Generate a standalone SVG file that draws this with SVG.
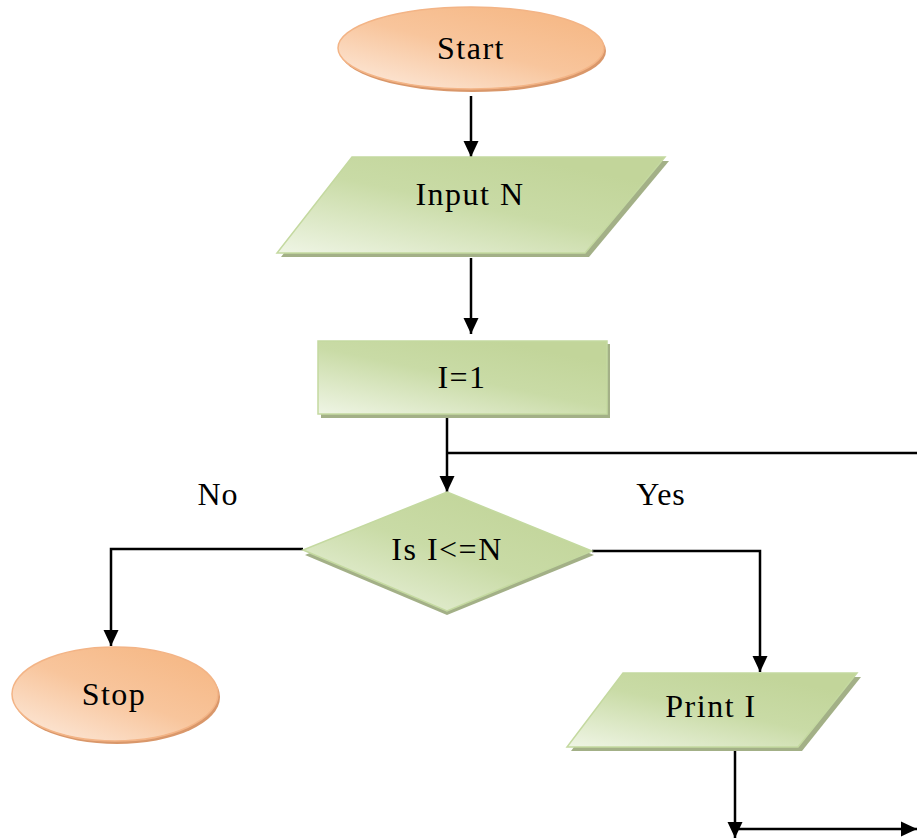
<svg xmlns="http://www.w3.org/2000/svg" width="917" height="839" viewBox="0 0 917 839">
  <style>
    .lbl { font-family: "Liberation Serif", "Times New Roman", serif; font-size: 32px; letter-spacing: 1.5px; fill: #000; text-anchor: middle; dominant-baseline: central; }
    .term { fill: url(#gOrange); stroke: #F3B486; stroke-width: 1.5; }
    .termShadow { fill: #D9976A; }
    .proc { fill: url(#gGreen); stroke: #C4D9A0; stroke-width: 1.5; }
    .procShadow { fill: #A3B087; }
    .wire { fill: none; stroke: #000; stroke-width: 2.5; }
  </style>
  <defs>
    <linearGradient id="gOrange" x1="0" y1="1" x2="0.75" y2="0.1">
      <stop offset="0" stop-color="#FDEDE1"/>
      <stop offset="0.6" stop-color="#F8C59C"/>
      <stop offset="1" stop-color="#F6BA89"/>
    </linearGradient>
    <linearGradient id="gGreen" x1="0" y1="1" x2="0.75" y2="0.1">
      <stop offset="0" stop-color="#EFF5E5"/>
      <stop offset="0.6" stop-color="#C9DBA6"/>
      <stop offset="1" stop-color="#C2D59A"/>
    </linearGradient>
    <marker id="arrow" viewBox="0 0 16 16" refX="16" refY="8" markerWidth="16" markerHeight="16" markerUnits="userSpaceOnUse" orient="auto">
      <path d="M0,0.5 L16,8 L0,15.5 z" fill="#000"/>
    </marker>
  </defs>

  <!-- connectors -->
  <g id="connectors">
    <line class="wire" x1="471" y1="96" x2="471" y2="157" marker-end="url(#arrow)"/>
    <line class="wire" x1="471" y1="258" x2="471" y2="334" marker-end="url(#arrow)"/>
    <line class="wire" x1="447" y1="415" x2="447" y2="492" marker-end="url(#arrow)"/>
    <line class="wire" x1="447" y1="453" x2="917" y2="453"/>
    <polyline class="wire" points="303,549 111,549 111,646" marker-end="url(#arrow)"/>
    <polyline class="wire" points="592,551 760,551 760,672" marker-end="url(#arrow)"/>
    <line class="wire" x1="735" y1="750" x2="735" y2="838" marker-end="url(#arrow)"/>
    <line class="wire" x1="735" y1="829" x2="917" y2="829" marker-end="url(#arrow)"/>
  </g>

  <!-- branch labels -->
  <text class="lbl" x="218" y="494" style="letter-spacing:1px">No</text>
  <text class="lbl" x="661" y="494" style="letter-spacing:1px">Yes</text>

  <g id="start">
    <ellipse class="termShadow" cx="473" cy="51" rx="133" ry="41"/>
    <ellipse class="term" cx="471" cy="48" rx="133" ry="41"/>
    <text class="lbl" x="471" y="48">Start</text>
  </g>

  <g id="inputN">
    <polygon class="procShadow" points="356,161 669,161 589,257 281,257"/>
    <polygon class="proc" points="352,157 665,157 585,253 277,253"/>
    <text class="lbl" x="470" y="194">Input N</text>
  </g>

  <g id="init">
    <rect class="procShadow" x="321" y="344" width="289" height="74"/>
    <rect class="proc" x="318" y="341" width="289" height="73"/>
    <text class="lbl" x="462" y="377">I=1</text>
  </g>

  <g id="decision">
    <polygon class="procShadow" points="447,496 594,555 447,615 305,555"/>
    <polygon class="proc" points="447,492 592,551 447,611 303,550"/>
    <text class="lbl" x="447" y="549">Is I&lt;=N</text>
  </g>

  <g id="stop">
    <ellipse class="termShadow" cx="117" cy="697" rx="103" ry="47"/>
    <ellipse class="term" cx="115" cy="694" rx="103" ry="47"/>
    <text class="lbl" x="114" y="694">Stop</text>
  </g>

  <g id="printI">
    <polygon class="procShadow" points="627,677 861,677 802,751 571,751"/>
    <polygon class="proc" points="623,673 857,673 798,747 567,747"/>
    <text class="lbl" x="711" y="706">Print I</text>
  </g>
</svg>
